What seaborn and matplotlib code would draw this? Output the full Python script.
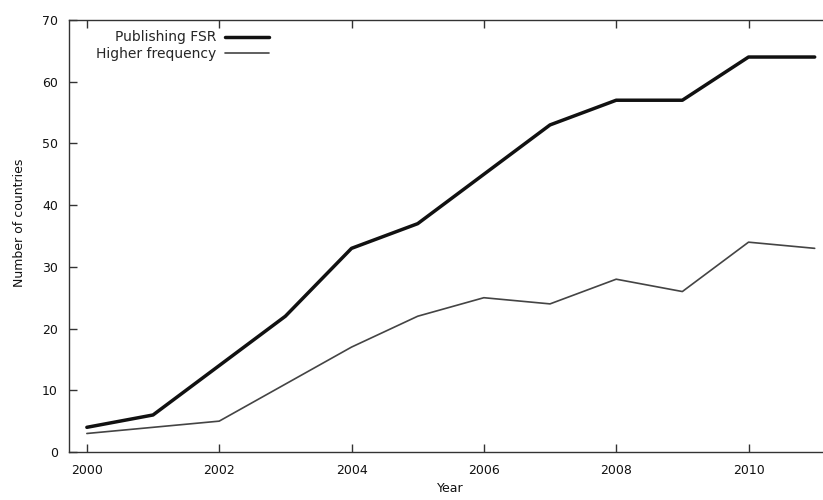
import matplotlib
matplotlib.use("Agg")
import matplotlib.pyplot as plt
import seaborn as sns
import pandas as pd

years = [2000, 2001, 2002, 2003, 2004, 2005, 2006, 2007, 2008, 2009, 2010, 2011]
publishing_fsr = [4, 6, 14, 22, 33, 37, 45, 53, 57, 57, 64, 64]
higher_frequency = [3, 4, 5, 11, 17, 22, 25, 24, 28, 26, 34, 33]
series_names = ["Publishing FSR", "Higher frequency"]
x_ticks = [2000, 2002, 2004, 2006, 2008, 2010]
y_ticks = [0, 10, 20, 30, 40, 50, 60, 70]

df = pd.DataFrame({
    "Year": years * 2,
    "Countries": publishing_fsr + higher_frequency,
    "Series": [series_names[0]] * len(years) + [series_names[1]] * len(years),
})

sns.set_style("white")
plt.rcParams["font.family"] = ["DejaVu Sans"]

FS = 9

fig = plt.figure(figsize=(8.23, 5.0), dpi=100)
ax = fig.add_axes([69 / 823, 48 / 500, (823 - 69) / 823 + 0.01, 432 / 500])

sns.lineplot(data=df, x="Year", y="Countries", hue="Series", size="Series",
             hue_order=series_names, size_order=series_names,
             palette={series_names[0]: "#111111", series_names[1]: "#444444"},
             sizes={series_names[0]: 2.5, series_names[1]: 1.2},
             ax=ax, legend=True)

ax.set_xlim(1999.73, 2011.25)
ax.set_ylim(0, 70)
ax.set_xticks(x_ticks)
ax.set_yticks(y_ticks)
ax.tick_params(axis="both", direction="in", length=6, width=1, color="#333333",
               labelsize=FS, labelcolor="#111111")
ax.tick_params(axis="x", top=True, bottom=True, pad=9)
ax.tick_params(axis="y", left=True, right=False, pad=8)
for s in ["left", "bottom", "top"]:
    ax.spines[s].set_color("#333333")
    ax.spines[s].set_linewidth(1.0)
ax.spines["right"].set_visible(False)

ax.set_xlabel("Year", fontsize=FS, color="#111111", labelpad=3)
ax.set_ylabel("Number of countries", fontsize=FS, color="#111111")
ax.yaxis.set_label_coords(-0.057, 0.53)

handles, labels = ax.get_legend_handles_labels()
leg = ax.legend(handles, labels, loc="upper left", bbox_to_anchor=(0.035, 0.976),
                frameon=False, markerfirst=False, fontsize=10, handlelength=3.2,
                handletextpad=0.65, labelspacing=0.2, borderpad=0, borderaxespad=0)

fig.savefig("out.png", dpi=100)
